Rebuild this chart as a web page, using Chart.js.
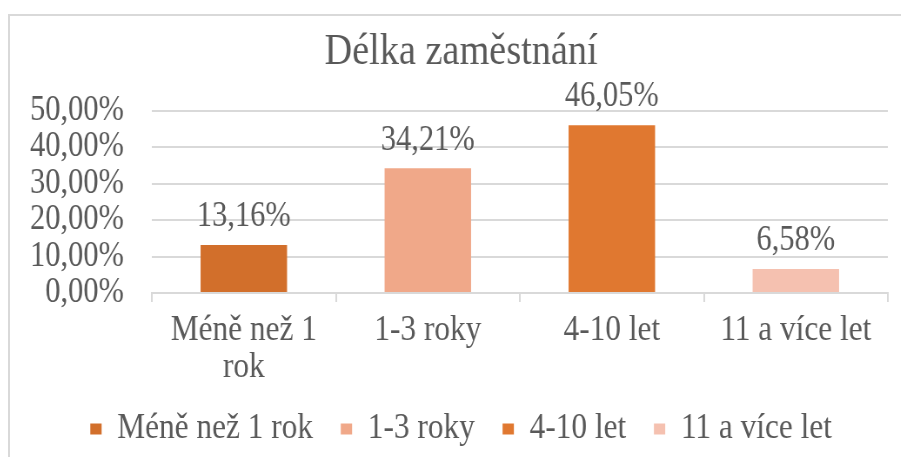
<!DOCTYPE html>
<html lang="cs">
<head>
<meta charset="utf-8">
<title>Délka zaměstnání</title>
<script src="https://cdn.jsdelivr.net/npm/chart.js@4.4.1/dist/chart.umd.min.js"></script>
<style>
    html, body { margin: 0; padding: 0; background: #fff; overflow: hidden; }
    #frame {
        position: absolute; left: 8px; top: 14px;
        width: 906px; height: 470px;
        border: 2px solid #d9d9d9; box-sizing: border-box;
    }
    /* the original picture is squeezed sideways, so the chart is drawn wider and scaled back */
    #holder {
        position: relative; width: 1037px; height: 466px;
        transform: scaleX(0.87); transform-origin: 0 0;
    }
</style>
</head>
<body>
<div id="frame"><div id="holder"><canvas id="jobChart"></canvas></div></div>
<script>
// --- 1. DATA ---
const chartTitle = 'Délka zaměstnání';
const categories = ['Méně než 1 rok', '1-3 roky', '4-10 let', '11 a více let'];
const tickLabels = [['Méně než 1', 'rok'], '1-3 roky', '4-10 let', '11 a více let'];
const shares = [13.16, 34.21, 46.05, 6.58];
const barColors = ['#d26f2b', '#f0a889', '#e07830', '#f5c1b0'];
const yTicks = [0, 10, 20, 30, 40, 50];

const TEXT = '#595959';
const GRID = '#d9d9d9';
const SERIF = '"Liberation Serif", "Times New Roman", serif';

function fmtPct(v) {
    return v.toFixed(2).replace('.', ',') + '%';
}

// --- 2. PLUGINS ---
const barValueLabels = {
    id: 'barValueLabels',
    afterDatasetsDraw(chart) {
        const ctx = chart.ctx;
        const meta = chart.getDatasetMeta(0);
        ctx.save();
        ctx.font = '35px ' + SERIF;
        ctx.fillStyle = TEXT;
        ctx.textAlign = 'center';
        ctx.textBaseline = 'middle';
        meta.data.forEach((bar, i) => {
            ctx.fillText(fmtPct(shares[i]), bar.x, bar.y - 28);
        });
        ctx.restore();
    }
};

// y labels are wider than the padded axis box, let them use the left margin
const widenYLabels = {
    id: 'widenYLabels',
    afterLayout(chart) {
        chart.scales.y.left = 0;
    }
};

// --- 3. CHART ---
function initChart() {
    const ctx = document.getElementById('jobChart').getContext('2d');
    new Chart(ctx, {
        type: 'bar',
        data: {
            labels: tickLabels,
            datasets: [{
                label: chartTitle,
                data: shares,
                backgroundColor: barColors,
                borderWidth: 0,
                categoryPercentage: 1,
                barPercentage: 0.47
            }]
        },
        options: {
            responsive: true,
            maintainAspectRatio: false,
            animation: false,
            layout: { padding: { left: 28, right: 28, top: 0, bottom: 25 } },
            plugins: {
                tooltip: { enabled: false },
                title: {
                    display: true,
                    text: chartTitle,
                    color: TEXT,
                    font: { family: SERIF, size: 44, weight: 'normal' },
                    padding: { top: 10, bottom: 32 }
                },
                legend: {
                    position: 'bottom',
                    labels: {
                        color: TEXT,
                        font: { family: SERIF, size: 36 },
                        boxWidth: 13,
                        boxHeight: 11,
                        padding: 32,
                        generateLabels: () => categories.map((name, i) => ({
                            text: name,
                            fillStyle: barColors[i],
                            strokeStyle: barColors[i],
                            lineWidth: 0,
                            hidden: false,
                            index: i,
                            fontColor: TEXT
                        }))
                    }
                }
            },
            scales: {
                x: {
                    grid: {
                        drawOnChartArea: false,
                        drawTicks: true,
                        tickLength: 9,
                        color: GRID,
                        lineWidth: 2
                    },
                    border: { display: true, color: GRID, width: 2 },
                    ticks: {
                        color: TEXT,
                        font: { family: SERIF, size: 36, lineHeight: 1.03 },
                        padding: 10,
                        maxRotation: 0,
                        autoSkip: false
                    },
                    afterFit: (scale) => { scale.height = 86; }
                },
                y: {
                    min: 0,
                    max: 50,
                    afterBuildTicks: (scale) => { scale.ticks = yTicks.map(v => ({ value: v })); },
                    grid: { color: GRID, lineWidth: 2, drawTicks: false },
                    border: { display: false },
                    ticks: {
                        color: TEXT,
                        font: { family: SERIF, size: 35 },
                        padding: 32,
                        autoSkip: false,
                        callback: (v) => fmtPct(v)
                    },
                    afterFit: (scale) => { scale.width = 135; }
                }
            }
        },
        plugins: [barValueLabels, widenYLabels]
    });
}

document.addEventListener('DOMContentLoaded', initChart);
</script>
</body>
</html>
